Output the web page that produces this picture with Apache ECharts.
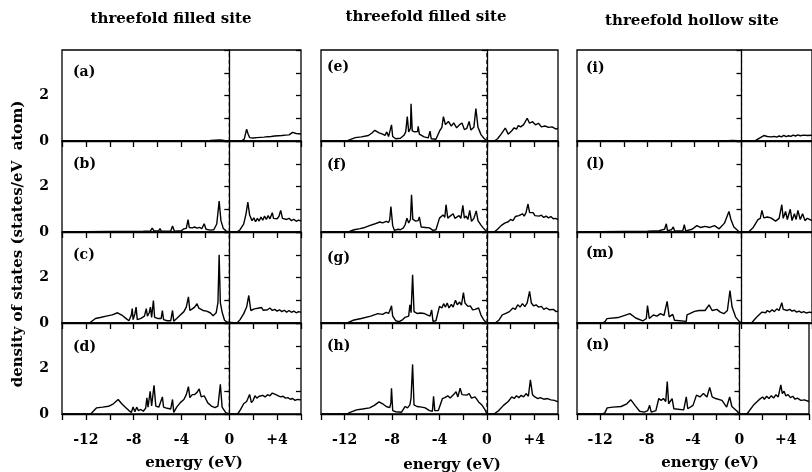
<!DOCTYPE html>
<html>
<head>
<meta charset="utf-8">
<script src="https://cdn.jsdelivr.net/npm/echarts@6/dist/echarts.min.js"></script>
<style>
html, body { margin: 0; padding: 0; background: #fff; }
#container { width: 812px; height: 472px; }
</style>
</head>
<body>
<div id="container"></div>
<script>
// column headings and panel letters
var columnTitles = ['threefold filled site', 'threefold filled site', 'threefold hollow site'];
var panelLetters = [
	['(a)', '(b)', '(c)', '(d)'],
	['(e)', '(f)', '(g)', '(h)'],
	['(i)', '(l)', '(m)', '(n)']
];
var xLabelValues = [-12, -8, -4, 0, 4];
var xLabelTexts = ['-12', '-8', '-4', '0', '+4'];
var yLabelValues = [0, 2];
var fermiEnergy = [[0, 0], [0, 4]];
var xTitle = 'energy (eV)';
var yTitle = 'density of states (states/eV  atom)';

// DOS curves, [energy (eV), states/eV atom]
var pdosA = [[-14,0],[-2.2,0],[-1.6,0.02],[-1.2,0.04],[-0.8,0.05],[-0.4,0.02],[0,0],[1.0,0],[1.25,0.08],[1.45,0.52],[1.58,0.3],[1.7,0.15],[1.85,0.2],[2.0,0.13],[2.15,0.19],[2.3,0.15],[2.45,0.21],[2.6,0.16],[2.75,0.2],[2.9,0.17],[3.05,0.23],[3.2,0.19],[3.35,0.22],[3.5,0.2],[3.65,0.26],[3.8,0.22],[3.95,0.27],[4.1,0.23],[4.25,0.28],[4.4,0.24],[4.55,0.3],[4.7,0.26],[4.85,0.29],[5.0,0.27],[5.15,0.33],[5.3,0.38],[5.45,0.3],[5.6,0.33],[5.75,0.28],[6,0.31]];
var pdosB = [[-14,0],[-12,0.01],[-10,0.02],[-8.5,0.02],[-7.2,0.04],[-6.6,0.05],[-6.45,0.17],[-6.3,0.05],[-5.9,0.06],[-5.8,0.15],[-5.7,0.05],[-4.9,0.04],[-4.75,0.26],[-4.6,0.04],[-4.0,0.06],[-3.8,0.14],[-3.6,0.16],[-3.45,0.54],[-3.35,0.2],[-3.1,0.18],[-2.9,0.22],[-2.7,0.17],[-2.5,0.2],[-2.3,0.15],[-2.1,0.36],[-1.95,0.12],[-1.6,0.08],[-1.3,0.1],[-1.05,0.35],[-0.85,1.36],[-0.7,0.5],[-0.5,0.15],[-0.25,0.04],[0,0],[0.65,0],[0.9,0.1],[1.2,0.35],[1.4,0.8],[1.55,1.31],[1.7,0.75],[1.9,0.5],[2.05,0.62],[2.2,0.45],[2.35,0.6],[2.5,0.48],[2.65,0.66],[2.8,0.52],[2.95,0.7],[3.1,0.55],[3.25,0.72],[3.4,0.58],[3.6,0.85],[3.7,0.6],[3.85,0.65],[4.0,0.58],[4.15,0.68],[4.3,0.95],[4.45,0.6],[4.6,0.66],[4.8,0.55],[5.0,0.6],[5.2,0.5],[5.4,0.56],[5.6,0.47],[5.8,0.52],[6,0.48]];
var pdosC = [[-14,0],[-11.7,0],[-11.6,0.06],[-11.2,0.2],[-10.8,0.24],[-10.3,0.3],[-9.8,0.36],[-9.35,0.45],[-9.0,0.35],[-8.6,0.18],[-8.4,0.1],[-8.2,0.35],[-8.12,0.63],[-8.05,0.15],[-7.9,0.4],[-7.8,0.7],[-7.7,0.15],[-7.4,0.2],[-7.1,0.3],[-6.95,0.63],[-6.85,0.3],[-6.7,0.45],[-6.6,0.7],[-6.5,0.25],[-6.35,0.99],[-6.25,0.25],[-6.0,0.2],[-5.7,0.2],[-5.6,0.55],[-5.5,0.15],[-5.2,0.1],[-4.9,0.1],[-4.75,0.55],[-4.65,0.08],[-4.4,0.2],[-4.1,0.35],[-3.8,0.5],[-3.6,0.7],[-3.42,1.15],[-3.3,0.55],[-3.1,0.62],[-2.9,0.7],[-2.7,0.85],[-2.55,0.65],[-2.4,0.72],[-2.2,0.55],[-1.9,0.52],[-1.6,0.45],[-1.35,0.32],[-1.1,0.45],[-0.95,0.9],[-0.85,3.0],[-0.75,0.9],[-0.6,0.48],[-0.4,0.12],[-0.15,0.03],[0,0],[0.65,0],[0.9,0.15],[1.2,0.4],[1.45,0.7],[1.63,1.21],[1.8,0.55],[1.95,0.48],[2.1,0.62],[2.25,0.55],[2.4,0.65],[2.55,0.58],[2.7,0.68],[2.85,0.56],[3.0,0.64],[3.2,0.58],[3.4,0.66],[3.6,0.55],[3.8,0.6],[4.0,0.52],[4.2,0.58],[4.4,0.5],[4.6,0.56],[4.8,0.48],[5.0,0.55],[5.2,0.47],[5.4,0.52],[5.6,0.45],[5.8,0.5],[6,0.47]];
var pdosD = [[-14,0],[-11.6,0],[-11.45,0.05],[-11.1,0.27],[-10.6,0.3],[-10.1,0.34],[-9.7,0.45],[-9.3,0.64],[-9.0,0.45],[-8.7,0.3],[-8.4,0.15],[-8.2,0.07],[-8.05,0.31],[-7.9,0.1],[-7.75,0.3],[-7.6,0.15],[-7.4,0.2],[-7.2,0.12],[-7.0,0.25],[-6.9,0.71],[-6.8,0.3],[-6.62,1.0],[-6.5,0.35],[-6.3,1.26],[-6.15,0.35],[-5.9,0.3],[-5.6,0.75],[-5.5,0.3],[-5.2,0.25],[-4.9,0.22],[-4.75,0.64],[-4.65,0.07],[-4.4,0.3],[-4.1,0.5],[-3.8,0.64],[-3.6,0.85],[-3.42,1.2],[-3.3,0.72],[-3.1,0.85],[-2.9,0.86],[-2.7,0.95],[-2.52,1.1],[-2.35,0.75],[-2.1,0.8],[-1.8,0.49],[-1.5,0.35],[-1.2,0.28],[-0.95,0.35],[-0.75,1.3],[-0.6,0.3],[-0.3,0.06],[0,0],[0.7,0],[0.95,0.2],[1.2,0.45],[1.45,0.55],[1.7,0.86],[1.85,0.5],[2.0,0.6],[2.15,0.8],[2.3,0.7],[2.5,0.78],[2.65,0.72],[2.8,0.82],[3.0,0.75],[3.2,0.85],[3.4,0.8],[3.6,0.92],[3.75,1.0],[3.9,0.85],[4.1,0.8],[4.3,0.75],[4.5,0.78],[4.7,0.7],[4.9,0.72],[5.1,0.65],[5.3,0.68],[5.5,0.6],[5.7,0.64],[6,0.62]];
var pdosE = [[-14,0],[-11.8,0],[-11.6,0.05],[-11.1,0.15],[-10.6,0.18],[-10.0,0.24],[-9.7,0.35],[-9.46,0.47],[-9.1,0.36],[-8.8,0.3],[-8.6,0.25],[-8.45,0.4],[-8.3,0.2],[-8.15,0.5],[-8.05,0.71],[-7.95,0.2],[-7.7,0.1],[-7.3,0.12],[-7.0,0.25],[-6.85,0.4],[-6.72,1.07],[-6.6,0.4],[-6.45,0.55],[-6.4,1.64],[-6.3,0.45],[-6.1,0.4],[-5.85,0.42],[-5.8,0.64],[-5.7,0.3],[-5.3,0.18],[-4.95,0.14],[-4.8,0.43],[-4.7,0.1],[-4.3,0.08],[-4.0,0.43],[-3.8,0.6],[-3.67,1.07],[-3.5,0.72],[-3.25,0.86],[-3.0,0.65],[-2.8,0.8],[-2.55,0.58],[-2.3,0.72],[-2.1,0.79],[-1.9,0.5],[-1.7,0.55],[-1.5,0.86],[-1.35,0.48],[-1.1,0.6],[-0.93,1.43],[-0.75,0.6],[-0.5,0.28],[-0.25,0.12],[0,0],[0.62,0],[0.9,0.1],[1.2,0.3],[1.55,0.57],[1.8,0.3],[2.1,0.45],[2.3,0.58],[2.5,0.52],[2.65,0.68],[2.85,0.62],[3.1,0.72],[3.4,1.0],[3.6,0.78],[3.85,0.85],[4.1,0.71],[4.35,0.78],[4.6,0.62],[4.9,0.66],[5.2,0.6],[5.5,0.62],[5.8,0.53],[6,0.55]];
var pdosF = [[-14,0],[-11.8,0],[-11.6,0.03],[-11.2,0.1],[-10.7,0.15],[-10.3,0.2],[-9.9,0.28],[-9.5,0.35],[-9.04,0.44],[-8.8,0.4],[-8.5,0.47],[-8.3,0.42],[-8.2,0.55],[-8.1,1.12],[-7.95,0.28],[-7.8,0.07],[-7.5,0.12],[-7.3,0.1],[-7.05,0.18],[-6.9,0.32],[-6.75,0.61],[-6.6,0.4],[-6.45,0.55],[-6.36,1.64],[-6.25,0.55],[-6.1,0.62],[-6.0,0.48],[-5.8,0.5],[-5.7,0.66],[-5.55,0.22],[-5.2,0.2],[-4.85,0.18],[-4.55,0.07],[-4.3,0.1],[-4.0,0.61],[-3.85,0.55],[-3.7,0.75],[-3.55,0.65],[-3.45,1.2],[-3.3,0.61],[-3.1,0.7],[-2.95,0.62],[-2.85,0.8],[-2.7,0.6],[-2.55,0.68],[-2.35,0.72],[-2.2,0.6],[-2.03,1.17],[-1.9,0.61],[-1.75,0.7],[-1.6,0.55],[-1.45,0.95],[-1.3,0.47],[-1.1,0.6],[-0.9,0.93],[-0.75,0.5],[-0.5,0.3],[-0.3,0.17],[0,0],[0.62,0],[0.9,0.12],[1.2,0.28],[1.5,0.39],[1.8,0.45],[2.0,0.55],[2.2,0.5],[2.4,0.68],[2.55,0.6],[2.7,0.72],[2.85,0.66],[3.0,0.8],[3.15,0.7],[3.3,0.85],[3.47,1.23],[3.6,0.86],[3.75,0.78],[3.9,0.85],[4.05,0.72],[4.2,0.8],[4.4,0.7],[4.6,0.74],[4.8,0.64],[5.0,0.7],[5.2,0.62],[5.4,0.68],[5.6,0.58],[5.8,0.6],[6,0.54]];
var pdosG = [[-14,0],[-11.8,0],[-11.3,0.12],[-10.6,0.2],[-9.8,0.3],[-9.2,0.41],[-8.8,0.38],[-8.5,0.47],[-8.3,0.42],[-8.15,0.6],[-8.05,0.76],[-7.95,0.3],[-7.7,0.1],[-7.4,0.06],[-7.1,0.15],[-6.9,0.25],[-6.6,0.3],[-6.5,0.8],[-6.4,0.45],[-6.27,2.12],[-6.15,0.5],[-5.9,0.42],[-5.6,0.44],[-5.3,0.42],[-5.0,0.35],[-4.8,0.3],[-4.66,0.58],[-4.55,0.07],[-4.3,0.1],[-4.0,0.73],[-3.8,0.66],[-3.65,0.85],[-3.5,0.7],[-3.35,0.88],[-3.2,0.66],[-3.0,0.82],[-2.85,0.7],[-2.65,1.0],[-2.5,0.8],[-2.3,0.92],[-2.15,0.78],[-1.98,1.34],[-1.85,0.88],[-1.6,0.73],[-1.4,0.75],[-1.2,0.58],[-1.0,0.6],[-0.7,0.66],[-0.5,0.35],[-0.25,0.12],[0,0],[0.7,0],[1.0,0.12],[1.3,0.36],[1.6,0.42],[1.9,0.5],[2.2,0.66],[2.4,0.6],[2.6,0.8],[2.8,0.7],[3.0,0.85],[3.2,0.72],[3.4,0.88],[3.6,1.39],[3.75,0.88],[3.95,0.75],[4.15,0.8],[4.35,0.7],[4.6,0.73],[4.8,0.6],[5.0,0.66],[5.3,0.58],[5.6,0.6],[5.85,0.5],[6,0.52]];
var pdosH = [[-14,0],[-11.8,0],[-11.6,0.06],[-11.0,0.18],[-10.5,0.22],[-9.9,0.27],[-9.5,0.38],[-9.1,0.53],[-8.8,0.45],[-8.5,0.33],[-8.2,0.28],[-8.1,0.5],[-8.05,1.13],[-7.95,0.15],[-7.7,0.1],[-7.2,0.08],[-6.9,0.33],[-6.7,0.27],[-6.5,0.4],[-6.4,0.7],[-6.27,2.18],[-6.15,0.4],[-5.9,0.33],[-5.5,0.3],[-5.2,0.27],[-4.85,0.15],[-4.6,0.12],[-4.5,0.78],[-4.4,0.15],[-4.1,0.15],[-3.75,0.68],[-3.55,0.72],[-3.3,0.8],[-3.1,0.7],[-2.85,0.83],[-2.6,0.98],[-2.45,0.75],[-2.26,1.13],[-2.1,0.85],[-1.95,0.9],[-1.7,0.83],[-1.5,0.9],[-1.3,0.7],[-1.0,0.75],[-0.7,0.53],[-0.4,0.38],[-0.15,0.18],[0,0],[0.6,0],[1.0,0.15],[1.4,0.38],[1.8,0.55],[2.1,0.75],[2.3,0.68],[2.5,0.8],[2.7,0.72],[2.9,0.82],[3.1,0.75],[3.3,0.9],[3.5,0.78],[3.67,1.5],[3.85,0.85],[4.05,0.75],[4.3,0.68],[4.5,0.72],[4.8,0.65],[5.1,0.68],[5.4,0.62],[5.7,0.6],[6,0.53]];
var pdosI = [[-14,0],[-1.5,0],[-0.8,0.02],[-0.3,0.01],[0,0],[0.9,0],[1.2,0.03],[1.5,0.12],[1.9,0.24],[2.2,0.2],[2.5,0.18],[2.8,0.2],[3.0,0.17],[3.2,0.22],[3.4,0.18],[3.6,0.25],[3.8,0.19],[4.0,0.23],[4.2,0.2],[4.4,0.26],[4.6,0.22],[4.8,0.27],[5.0,0.23],[5.3,0.26],[5.6,0.24],[6,0.25]];
var pdosL = [[-14,0],[-12,0.01],[-10,0.02],[-8,0.03],[-7,0.06],[-6.55,0.12],[-6.4,0.36],[-6.3,0.06],[-5.95,0.1],[-5.8,0.22],[-5.7,0.05],[-5.0,0.05],[-4.87,0.32],[-4.75,0.05],[-4.2,0.12],[-3.8,0.28],[-3.5,0.2],[-3.1,0.25],[-2.7,0.2],[-2.3,0.28],[-1.9,0.14],[-1.45,0.39],[-1.07,0.9],[-0.9,0.55],[-0.65,0.22],[-0.25,0.03],[0,0],[0.6,0],[1.0,0.2],[1.4,0.54],[1.6,0.6],[1.74,0.95],[1.9,0.62],[2.2,0.66],[2.5,0.62],[2.9,0.48],[3.2,0.6],[3.43,1.2],[3.55,0.6],[3.75,0.9],[3.9,0.55],[4.15,1.0],[4.3,0.5],[4.5,0.8],[4.65,0.55],[4.8,0.95],[5.0,0.55],[5.2,0.8],[5.4,0.5],[5.6,0.6],[6,0.5]];
var pdosM = [[-14,0],[-11.8,0],[-11.6,0.07],[-11.45,0.19],[-10.5,0.24],[-9.5,0.41],[-9.0,0.22],[-8.4,0.09],[-8.1,0.2],[-8.0,0.77],[-7.85,0.2],[-7.5,0.35],[-7.2,0.3],[-6.9,0.41],[-6.6,0.33],[-6.33,0.95],[-6.15,0.27],[-5.85,0.38],[-5.7,0.12],[-4.7,0.07],[-4.64,0.36],[-4.4,0.41],[-4.0,0.51],[-3.6,0.55],[-3.45,0.63],[-3.1,0.55],[-2.76,0.8],[-2.5,0.55],[-2.1,0.6],[-1.8,0.48],[-1.5,0.41],[-1.2,0.55],[-0.98,1.43],[-0.8,0.7],[-0.5,0.26],[-0.2,0.07],[0,0],[0.85,0],[1.3,0.26],[1.75,0.48],[1.9,0.52],[2.05,0.45],[2.2,0.55],[2.4,0.48],[2.6,0.58],[2.8,0.5],[3.0,0.62],[3.2,0.55],[3.43,0.89],[3.55,0.6],[3.7,0.65],[3.9,0.55],[4.1,0.6],[4.3,0.52],[4.5,0.56],[4.7,0.48],[4.9,0.52],[5.1,0.46],[5.3,0.5],[5.5,0.44],[5.8,0.48],[6,0.45]];
var pdosN = [[-14,0],[-11.8,0],[-11.6,0.05],[-11.4,0.27],[-10.9,0.3],[-10.2,0.33],[-9.7,0.45],[-9.37,0.63],[-9.0,0.38],[-8.6,0.12],[-8.2,0.08],[-7.9,0.15],[-7.74,0.38],[-7.6,0.08],[-7.2,0.15],[-6.95,0.68],[-6.75,0.6],[-6.55,0.68],[-6.35,0.55],[-6.22,1.43],[-6.1,0.45],[-5.8,0.68],[-5.65,0.23],[-4.8,0.18],[-4.58,0.75],[-4.45,0.23],[-4.0,0.38],[-3.7,0.83],[-3.4,0.75],[-3.1,0.9],[-2.8,0.75],[-2.56,1.17],[-2.35,0.75],[-2.05,0.68],[-1.5,0.6],[-1.1,0.3],[-0.84,0.75],[-0.65,0.33],[-0.2,0.12],[0,0],[0.65,0],[1.2,0.38],[1.7,0.63],[1.85,0.55],[2.0,0.75],[2.15,0.65],[2.35,0.78],[2.55,0.68],[2.75,0.8],[2.95,0.7],[3.15,0.85],[3.35,0.75],[3.57,1.28],[3.7,0.9],[3.85,1.0],[4.0,0.8],[4.2,0.85],[4.4,0.72],[4.6,0.78],[4.8,0.65],[5.0,0.7],[5.3,0.6],[5.6,0.62],[6,0.55]];

var panels = [
	[pdosA, pdosB, pdosC, pdosD],
	[pdosE, pdosF, pdosG, pdosH],
	[pdosI, pdosL, pdosM, pdosN]
];

// layout (pixels)
var colLeft = [62, 321, 577];
var colWidth = [239, 237, 238];
var rowTop = 50;
var rowH = 91;
var titlePos = [[171, 19], [426, 17], [692, 21]];
var xTitlePos = [[194, 463], [452, 465], [710, 463]];
var letterX = [73, 327, 586];
var letterY = [[72, 164, 255, 347], [67, 165, 258, 346], [68, 164, 253, 345]];

var FONT = '"DejaVu Serif", "Liberation Serif", serif';

var app = (function() {
	var dom = document.getElementById('container');
	var myChart = echarts.init(dom, null, { renderer: 'canvas' });

	var grids = [], xAxes = [], yAxes = [], series = [], graphics = [];

	for (var c = 0; c < 3; c++) {
		for (var r = 0; r < 4; r++) {
			var idx = c * 4 + r;
			var bottom = (r === 3);
			grids.push({
				left: colLeft[c],
				top: rowTop + r * rowH,
				width: colWidth[c],
				height: rowH,
				show: true,
				borderColor: '#000',
				borderWidth: 1.3,
				backgroundColor: 'transparent'
			});
			xAxes.push({
				type: 'value',
				gridIndex: idx,
				min: -14,
				max: 6,
				interval: 2,
				axisLine: { show: true, onZero: false, lineStyle: { color: '#000', width: 1.3 } },
				axisTick: { show: true, length: 6, lineStyle: { color: '#000', width: 1.3 } },
				axisLabel: {
					show: bottom,
					margin: 19,
					color: '#000',
					fontFamily: FONT,
					fontWeight: 'bold',
					fontSize: 14,
					showMinLabel: true,
					showMaxLabel: true,
					formatter: function(v) {
						var k = xLabelValues.indexOf(v);
						return k >= 0 ? xLabelTexts[k] : '';
					}
				},
				splitLine: { show: false }
			});
			yAxes.push({
				type: 'value',
				gridIndex: idx,
				min: 0,
				max: 4,
				interval: 1,
				axisLine: { show: true, lineStyle: { color: '#000', width: 1.3 } },
				axisTick: { show: true, length: 5, lineStyle: { color: '#000', width: 1.3 } },
				axisLabel: {
					show: c === 0,
					margin: 13,
					color: '#000',
					fontFamily: FONT,
					fontWeight: 'bold',
					fontSize: 14,
					formatter: function(v) {
						return yLabelValues.indexOf(v) >= 0 ? String(v) : '';
					}
				},
				splitLine: { show: false }
			});
			// Fermi level, dashed
			series.push({
				type: 'line',
				xAxisIndex: idx,
				yAxisIndex: idx,
				data: fermiEnergy,
				showSymbol: false,
				symbol: 'none',
				silent: true,
				animation: false,
				lineStyle: { color: '#000', width: 1.1, type: [4, 3] }
			});
			series.push({
				type: 'line',
				xAxisIndex: idx,
				yAxisIndex: idx,
				data: panels[c][r],
				showSymbol: false,
				symbol: 'none',
				silent: true,
				animation: false,
				lineStyle: { color: '#000', width: 1.4 }
			});
			graphics.push({
				type: 'text',
				x: letterX[c],
				y: letterY[c][r],
				style: {
					text: panelLetters[c][r],
					fill: '#000',
					font: 'bold 14px ' + FONT,
					align: 'left',
					verticalAlign: 'middle'
				}
			});
		}
	}

	// inward ticks on the right border of the first column
	for (var r2 = 0; r2 < 4; r2++) {
		yAxes.push({
			type: 'value',
			gridIndex: r2,
			position: 'right',
			min: 0,
			max: 4,
			interval: 1,
			axisLine: { show: false },
			axisTick: { show: true, inside: true, length: 5, lineStyle: { color: '#000', width: 1.3 } },
			axisLabel: { show: false },
			splitLine: { show: false }
		});
	}

	for (var k = 0; k < 3; k++) {
		graphics.push({
			type: 'text',
			x: titlePos[k][0],
			y: titlePos[k][1],
			style: { text: columnTitles[k], fill: '#000', font: 'bold 15px ' + FONT, align: 'center', verticalAlign: 'middle' }
		});
		graphics.push({
			type: 'text',
			x: xTitlePos[k][0],
			y: xTitlePos[k][1],
			style: { text: xTitle, fill: '#000', font: 'bold 15px ' + FONT, align: 'center', verticalAlign: 'middle' }
		});
	}
	graphics.push({
		type: 'text',
		x: 18,
		y: 244,
		rotation: Math.PI / 2,
		style: { text: yTitle, fill: '#000', font: 'bold 15px ' + FONT, align: 'center', verticalAlign: 'middle' }
	});

	myChart.setOption({
		backgroundColor: '#fff',
		animation: false,
		grid: grids,
		xAxis: xAxes,
		yAxis: yAxes,
		series: series,
		graphic: graphics
	});

	return myChart;
})();
</script>
</body>
</html>
